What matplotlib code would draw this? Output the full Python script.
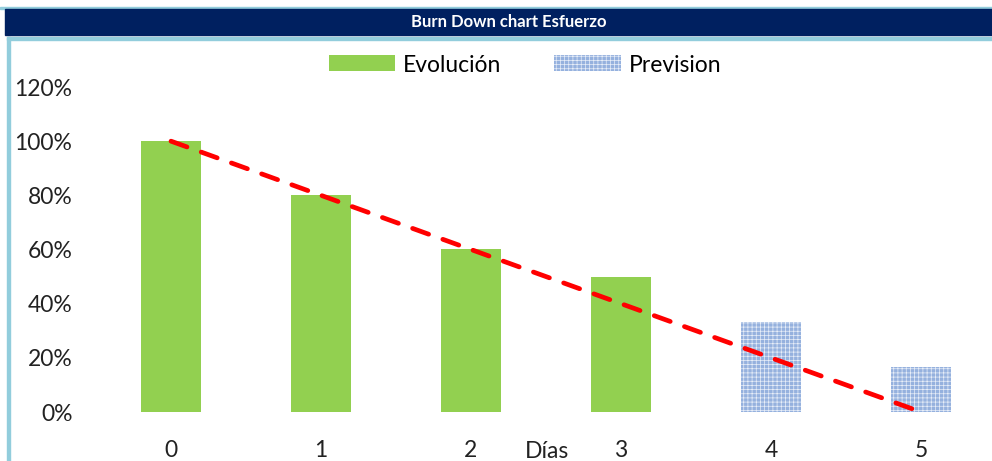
import matplotlib.pyplot as plt
from matplotlib.patches import Rectangle
from matplotlib.ticker import PercentFormatter

plt.rcParams['font.family'] = ['Lato', 'DejaVu Sans']
plt.rcParams['hatch.linewidth'] = 0.5

# burn down data (fraction of remaining effort)
dias = [0, 1, 2, 3, 4, 5]
evolucion = [1.0, 0.8, 0.6, 0.5, 0, 0]
prevision = [0, 0, 0, 0, 1/3, 1/6]
ideal = [1.0, 0.8, 0.6, 0.4, 0.2, 0.0]
yticks = [0, 0.2, 0.4, 0.6, 0.8, 1.0, 1.2]

W, H = 992, 461
fig = plt.figure(figsize=(W/100, H/100), dpi=100)

# frame: light blue border lines and navy title band
fig.patches.append(Rectangle((0, 1 - 9/H), 1, 2/H, transform=fig.transFigure,
                             color='#92cddc', zorder=0))
fig.patches.append(Rectangle((5/W, 1 - 35/H), 1, 26/H, transform=fig.transFigure,
                             color='#002060', zorder=1))
fig.patches.append(Rectangle((7/W, 1 - 40/H), 1, 3/H, transform=fig.transFigure,
                             color='#92cddc', zorder=0))
fig.patches.append(Rectangle((7/W, 0), 3/W, 1 - 37/H, transform=fig.transFigure,
                             color='#92cddc', zorder=0))
fig.text(509/W, 1 - 22/H, 'Burn Down chart Esfuerzo', color='white',
         fontsize=12, fontweight='bold', ha='center', va='center')

ax = fig.add_axes([96/W, 49/H, 900/W, 325/H])
ax.bar(dias, evolucion, width=0.4, color='#92d050', label='Evolución', zorder=2)
ax.bar(dias, prevision, width=0.4, facecolor='#95b1de', edgecolor='#e8eef8',
       hatch='++++', linewidth=0, label='Prevision', zorder=2)
ax.plot(dias, ideal, color='red', linewidth=3.4, linestyle=(0, (3.6, 3.2)),
        dash_capstyle='round', zorder=3)

ax.set_xlim(-0.5, 5.5)
ax.set_ylim(0, 1.2)
ax.set_yticks(yticks)
ax.yaxis.set_major_formatter(PercentFormatter(1.0, decimals=0))
ax.set_xticks(dias)
ax.tick_params(axis='both', length=0, labelsize=16.5, labelcolor='#222222')
ax.tick_params(axis='x', pad=20)
ax.tick_params(axis='y', pad=17)
for s in ax.spines.values():
    s.set_visible(False)

fig.text(547/W, 1 - 458/H, 'Días', fontsize=16.5, color='#222222',
         ha='center', va='baseline')

ax.legend(loc='center', bbox_to_anchor=(525/W, 1 - 65/H),
          bbox_transform=fig.transFigure, ncol=2, frameon=False, fontsize=16.5,
          handlelength=2.9, handleheight=0.7, columnspacing=2.3,
          handletextpad=0.35)

fig.savefig('out.png', dpi=100)
